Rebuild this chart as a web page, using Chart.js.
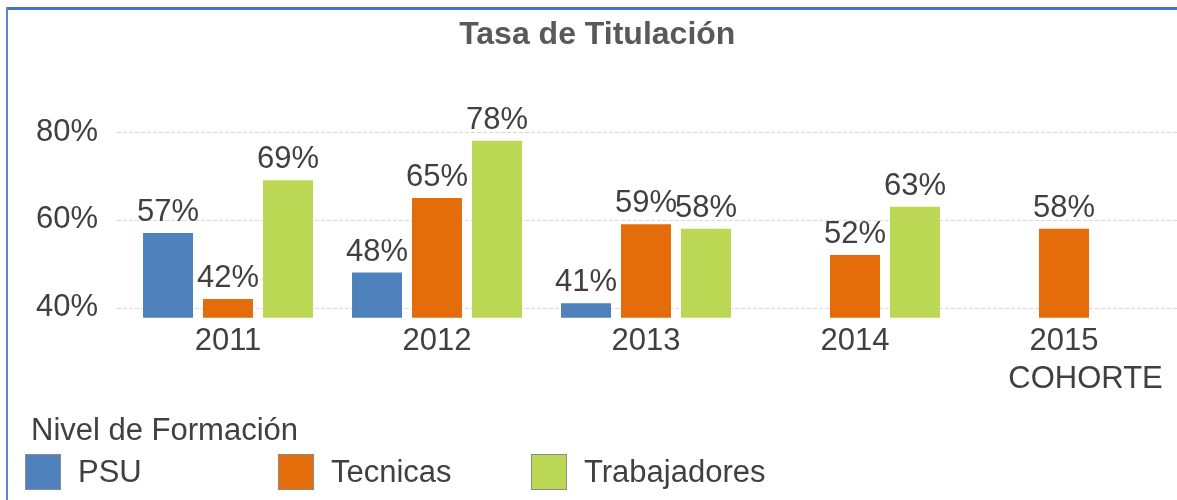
<!DOCTYPE html>
<html>
<head>
<meta charset="utf-8">
<script src="https://cdn.jsdelivr.net/npm/chart.js@4.4.1/dist/chart.umd.min.js"></script>
<style>
  html, body { margin: 0; padding: 0; background: #fff; }
  #wrap { position: relative; width: 1177px; height: 500px; overflow: hidden;
          font-family: 'Liberation Sans', Arial, sans-serif; color: #404040; }
  #c { position: absolute; left: 0; top: 0; }
  .edge-top { position: absolute; left: 6px; top: 7px; width: 1171px; height: 3px; background: #4472c4; }
  .edge-left { position: absolute; left: 6px; top: 7px; width: 2px; height: 493px; background: #5a87cf; }
  #legend-title { position: absolute; left: 31px; top: 412px; font-size: 31px; line-height: 36px; }
  .item { position: absolute; top: 454px; height: 36px; display: flex; align-items: center;
          font-size: 31px; white-space: nowrap; }
  .item .box { width: 36px; height: 36px; box-sizing: border-box; border: 1px solid #8c8c8c; margin-right: 17px; }
</style>
</head>
<body>
<div id="wrap">
  <canvas id="c" width="1177" height="500"></canvas>
  <div class="edge-top"></div>
  <div class="edge-left"></div>
  <div id="legend-title">Nivel de Formación</div>
  <div id="legend"></div>
</div>
<script>
// second line of the last label sits a little to the right in the original
const categories = ['2011', '2012', '2013', '2014', ['2015', '     COHORTE']];
const seriesNames = ['PSU', 'Tecnicas', 'Trabajadores'];
const psu = [57, 48, 41, null, null];
const tecnicas = [42, 65, 59, 52, 58];
const trabajadores = [69, 78, 58, 63, null];
const yTicks = [40, 60, 80];

const colors = ['#4f81bd', '#e46c0a', '#bcd753'];
const family = "'Liberation Sans', Arial, sans-serif";
const textColor = '#404040';

// dashed horizontal lines, a bit wider than the plot area
const gridLines = {
  id: 'gridLines',
  beforeDatasetsDraw(chart) {
    const { ctx, chartArea, scales: { y } } = chart;
    ctx.save();
    ctx.strokeStyle = '#d9d9d9';
    ctx.lineWidth = 1;
    ctx.setLineDash([4, 2]);
    y.ticks.forEach(t => {
      const py = Math.round(y.getPixelForValue(t.value)) + 0.5;
      ctx.beginPath();
      ctx.moveTo(chartArea.left - 6.5, py);
      ctx.lineTo(chart.width, py);
      ctx.stroke();
    });
    ctx.restore();
  }
};

// value labels above bars
const valueLabels = {
  id: 'valueLabels',
  afterDatasetsDraw(chart) {
    const ctx = chart.ctx;
    ctx.save();
    ctx.font = '31px ' + family;
    ctx.fillStyle = textColor;
    ctx.textAlign = 'center';
    ctx.textBaseline = 'alphabetic';
    chart.data.datasets.forEach((ds, i) => {
      chart.getDatasetMeta(i).data.forEach((bar, j) => {
        const v = ds.data[j];
        if (v == null) return;
        ctx.fillText(v + '%', bar.x, bar.y - 12);
      });
    });
    ctx.restore();
  }
};

const chart = new Chart(document.getElementById('c'), {
  type: 'bar',
  data: {
    labels: categories,
    datasets: [
      { label: seriesNames[0], data: psu, backgroundColor: colors[0] },
      { label: seriesNames[1], data: tecnicas, backgroundColor: colors[1] },
      { label: seriesNames[2], data: trabajadores, backgroundColor: colors[2] }
    ]
  },
  options: {
    responsive: false,
    animation: false,
    devicePixelRatio: 1,
    layout: { padding: { left: 26, right: 8.5, top: 0, bottom: 0 } },
    datasets: { bar: { categoryPercentage: 0.861, barPercentage: 0.8333 } },
    plugins: {
      legend: { display: false },
      tooltip: { enabled: false },
      title: {
        display: true,
        text: 'Tasa de Titulación',
        color: '#595959',
        font: { family: family, size: 32, weight: 'bold' },
        padding: { top: 16, bottom: 42.5 }
      }
    },
    scales: {
      x: {
        grid: { display: false, drawTicks: false },
        border: { display: false },
        ticks: {
          color: textColor,
          font: { family: family, size: 31, lineHeight: 38 / 31 },
          padding: 5,
          maxRotation: 0,
          autoSkip: false
        },
        afterFit: s => { s.height = 182.3; }
      },
      y: {
        min: 37.72,
        max: 88,
        grid: { display: false, drawTicks: false },
        border: { display: false },
        afterBuildTicks: s => { s.ticks = yTicks.map(v => ({ value: v })); },
        ticks: {
          color: textColor,
          font: { family: family, size: 31 },
          padding: 25.5,
          callback: v => v + '%'
        },
        afterFit: s => { s.width = 97.5; }
      }
    }
  },
  plugins: [gridLines, valueLabels]
});

// legend built from the datasets
const legend = document.getElementById('legend');
chart.data.datasets.forEach((ds, i) => {
  const item = document.createElement('div');
  item.className = 'item';
  item.style.left = (25 + i * 253) + 'px';
  const box = document.createElement('span');
  box.className = 'box';
  box.style.background = ds.backgroundColor;
  item.appendChild(box);
  item.appendChild(document.createTextNode(ds.label));
  legend.appendChild(item);
});
</script>
</body>
</html>
